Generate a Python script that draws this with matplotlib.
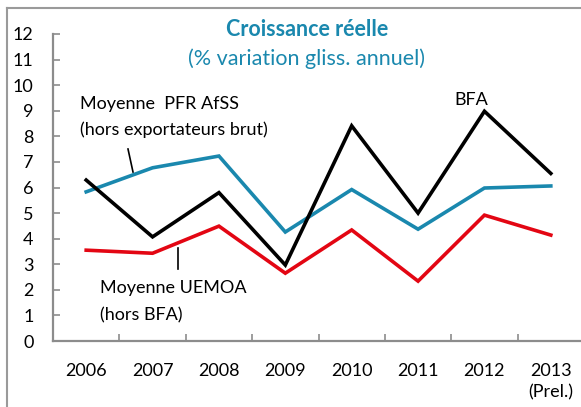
import matplotlib
matplotlib.use("Agg")
import matplotlib.pyplot as plt
from matplotlib.lines import Line2D

years = ["2006", "2007", "2008", "2009", "2010", "2011", "2012", "2013\n(Prel.)"]
bfa = [6.29, 4.07, 5.80, 2.97, 8.41, 5.00, 8.98, 6.55]
pfr_afss = [5.83, 6.77, 7.23, 4.26, 5.92, 4.37, 5.98, 6.06]
uemoa = [3.55, 3.43, 4.49, 2.65, 4.34, 2.34, 4.92, 4.14]
y_ticks = list(range(0, 13))

TEAL = "#1a88ae"
RED = "#e30613"
AXIS_GRAY = "#8c8c8c"

plt.rcParams["font.family"] = ["Lato", "DejaVu Sans"]

fig = plt.figure(figsize=(5.81, 4.07), dpi=100)
ax = fig.add_axes([53 / 581, 1 - 341 / 407, 531 / 581, 307 / 407])

x = list(range(len(years)))
ax.plot(x, uemoa, color=RED, lw=2.6, solid_joinstyle="miter")
ax.plot(x, pfr_afss, color=TEAL, lw=2.6, solid_joinstyle="miter")
ax.plot(x, bfa, color="black", lw=2.6, solid_joinstyle="miter")

ax.set_xlim(-0.5, len(years) - 0.5)
ax.set_ylim(0, 12)
ax.set_yticks(y_ticks)
ax.set_xticks(x)
ax.set_xticklabels(years, fontsize=13, linespacing=1.4)
ax.set_xticks([i + 0.5 for i in x[:-1]], minor=True)
ax.tick_params(axis="x", which="major", length=0, pad=16)
ax.tick_params(axis="x", which="minor", direction="in", length=5, width=1.2, color=AXIS_GRAY)
ax.tick_params(axis="y", direction="in", length=5, width=1.2, color=AXIS_GRAY, labelsize=13, pad=14)

for side in ["top", "right"]:
    ax.spines[side].set_visible(False)
for side in ["left", "bottom"]:
    ax.spines[side].set_color(AXIS_GRAY)
    ax.spines[side].set_linewidth(1.6)
ax.patch.set_visible(False)

# titles
fig.text(307 / 581, 1 - 30 / 407, "Croissance réelle", color=TEAL, fontsize=15.5,
         fontweight="bold", ha="center", va="center")
fig.text(307 / 581, 1 - 59 / 407, "(% variation gliss. annuel)", color=TEAL, fontsize=15.5,
         ha="center", va="center")

# annotations
fig.text(80 / 581, 1 - 104 / 407, "Moyenne  PFR AfSS", fontsize=13, ha="left", va="center")
fig.text(80 / 581, 1 - 130 / 407, "(hors exportateurs brut)", fontsize=13, ha="left", va="center")
fig.add_artist(Line2D([128 / 581, 133 / 581], [1 - 149 / 407, 1 - 172 / 407], color="black", lw=1.2))

fig.text(471 / 581, 1 - 100 / 407, "BFA", fontsize=13, ha="center", va="center")

fig.text(100 / 581, 1 - 288 / 407, "Moyenne UEMOA", fontsize=13, ha="left", va="center")
fig.text(100 / 581, 1 - 315 / 407, "(hors BFA)", fontsize=13, ha="left", va="center")
fig.add_artist(Line2D([178 / 581, 178 / 581], [1 - 248 / 407, 1 - 269 / 407], color="black", lw=1.2))

# outer frame (top and left edges visible)
fig.add_artist(Line2D([7 / 581, 1.0], [1 - 8 / 407, 1 - 8 / 407], color="#9a9a9a", lw=1.5))
fig.add_artist(Line2D([7 / 581, 7 / 581], [0, 1 - 8 / 407], color="#9a9a9a", lw=1.5))

fig.savefig("out.png", dpi=100)
